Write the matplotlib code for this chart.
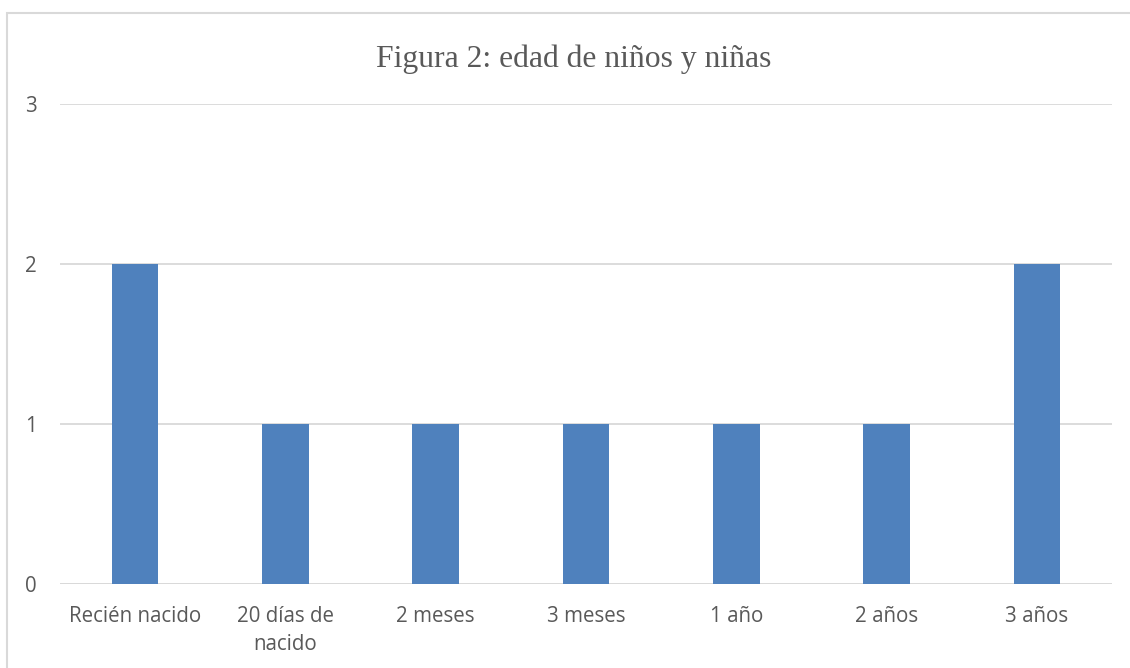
import matplotlib
matplotlib.use("Agg")
import matplotlib.pyplot as plt
from matplotlib.patches import Rectangle

categories = ["Recién nacido", "20 días de\nnacido", "2 meses", "3 meses",
              "1 año", "2 años", "3 años"]
counts = [2, 1, 1, 1, 1, 1, 2]
y_ticks = [0, 1, 2, 3]
title = "Figura 2: edad de niños y niñas"

W, H = 1130, 668
fig = plt.figure(figsize=(W / 100, H / 100), dpi=100)
fig.patch.set_facecolor("white")

# chart frame (runs off the right and bottom edges)
fig.patches.append(Rectangle((7 / W, -0.1), 1.2, 1 - 13 / H + 0.1,
                             transform=fig.transFigure, fill=False,
                             edgecolor="#d9d9d9", linewidth=1.5))

left, right, top, bottom = 60, 1112, 104, 584
ax = fig.add_axes([left / W, 1 - bottom / H, (right - left) / W, (bottom - top) / H])

x = range(len(categories))
ax.bar(x, counts, width=0.31, color="#4f81bd", zorder=3)
ax.set_xlim(-0.5, len(categories) - 0.5)
ax.set_ylim(0, 3)
ax.set_yticks(y_ticks)
ax.set_xticks(list(x))
ax.set_xticklabels(categories)

for s in ax.spines.values():
    s.set_visible(False)
ax.grid(axis="y", color="#d9d9d9", linewidth=1.3, zorder=0)
ax.axhline(0, color="#d9d9d9", linewidth=1.8, zorder=2)
ax.tick_params(axis="both", length=0, labelsize=14.8, labelcolor="#595959")
ax.tick_params(axis="x", pad=15.5)
ax.tick_params(axis="y", pad=17)
for lab in ax.get_xticklabels() + ax.get_yticklabels():
    lab.set_fontfamily("Open Sans")
    lab.set_linespacing(1.45)

fig.text(574 / W, 1 - 59 / H, title, ha="center", va="center",
         fontsize=22.8, color="#595959", fontfamily="Liberation Serif")

fig.savefig("out.png", dpi=100, facecolor="white")
